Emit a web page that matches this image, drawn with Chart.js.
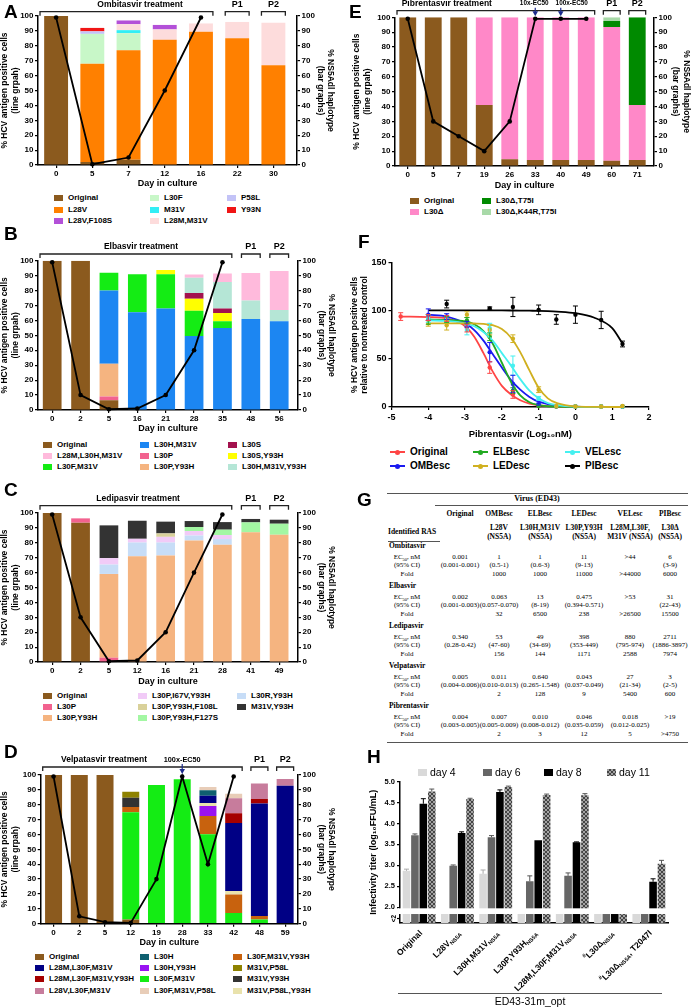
<!DOCTYPE html>
<html>
<head>
<meta charset="utf-8">
<script src="https://cdn.jsdelivr.net/npm/chart.js@4.4.1/dist/chart.umd.min.js"></script>
<style>
  body { margin:0; width:691px; height:1007px; position:relative; overflow:hidden; background:#fff; font-family:"Liberation Sans", Arial, sans-serif; }
  canvas { position:absolute; }
  .letter { position:absolute; font-weight:bold; font-size:19px; line-height:19px; }
  .lg { position:absolute; height:10px; font-weight:bold; font-size:8px; line-height:10px; white-space:nowrap; }
  .lg i { position:absolute; left:0; top:2px; width:9px; height:6px; }
  .lg span { position:absolute; left:14px; top:0; }
  .fl { position:absolute; height:12px; font-weight:bold; font-size:10px; line-height:12px; white-space:nowrap; }
  .fl b { position:absolute; left:0; top:5px; width:15px; height:2px; }
  .fl u { position:absolute; left:5px; top:3.5px; width:5px; height:5px; border-radius:50%; }
  .fl span { position:absolute; top:0; }
  .hl { position:absolute; height:12px; font-size:10.5px; line-height:12px; white-space:nowrap; }
  .hl i { position:absolute; left:0; top:2.5px; width:9px; height:7px; }
  .hl span { position:absolute; left:12px; top:0; }
  .tb { position:absolute; font-family:"Liberation Serif", "Times New Roman", serif; font-size:7px; line-height:8px; white-space:nowrap; transform:translate(-50%,-50%); }
  .tb.b { font-weight:bold; font-size:7.5px; }
  .tb.l { transform:translate(0,-50%); }
  .tb.big { font-size:8px; }
  .tb sub { font-size:4.5px; vertical-align:-1.5px; line-height:0; }
  .hr { position:absolute; height:0; border-top:1.2px solid #555; }
</style>
</head>
<body>
<script>
// ------- A: ombitasvir (stacked haplotypes, % of day) -------
const daysA = ['0', '5', '7', '12', '16', '22', '30'];
const lineA = [99, 0.5, 5, 50, 99, null, null];
const A_original   = [100, 2, 3.5, 0, 0, 0, 0];
const A_L28V       = [0, 66, 73.5, 84, 89.5, 85, 67];
const A_L30F       = [0, 20, 11.5, 0, 0, 0, 0];
const A_M31V       = [0, 0, 2, 0, 0, 0, 0];
const A_P58L       = [0, 1.7, 0, 0, 0, 0, 0];
const A_Y93N       = [0, 2.3, 0, 0, 0, 0, 0];
const A_L28M_M31V  = [0, 0, 4, 7, 5.5, 11, 28.5];
const A_L28V_F108S = [0, 0, 2.5, 3, 0, 0, 0];

// ------- B: elbasvir -------
const daysB = ['0', '2', '5', '16', '21', '28', '35', '48', '56'];
const lineB = [99, 10, 0.5, 1, 10, 40, 99, null, null];
const B_original       = [100, 100, 6.5, 0, 0, 0, 0, 0, 0];
const B_L30P           = [0, 0, 2.5, 0, 0, 0, 0, 0, 0];
const B_L30P_Y93H      = [0, 0, 22, 0, 0, 0, 0, 0, 0];
const B_L30H_M31V      = [0, 0, 49, 65.5, 68, 49.5, 55, 61, 59.5];
const B_L30F_M31V      = [0, 0, 12, 25.5, 23, 17, 4.5, 0, 0];
const B_L30S_Y93H      = [0, 0, 0, 0, 2.8, 8, 5.5, 0, 0];
const B_L30S           = [0, 0, 0, 0, 0, 3.8, 3, 0, 0];
const B_L30H_M31V_Y93H = [0, 0, 0, 0, 0, 10.3, 17.7, 12.4, 7.5];
const B_L28M_L30H_M31V = [0, 0, 0, 0, 0, 2.2, 5.8, 18.3, 26.1];

// ------- C: ledipasvir -------
const daysC = ['0', '2', '5', '12', '16', '21', '28', '41', '49'];
const lineC = [99, 30, 0.5, 1, 20, 60, 99, null, null];
const C_original        = [100, 93.5, 0, 0, 0, 0, 0, 0, 0];
const C_L30P            = [0, 2.9, 2.9, 0, 0, 0, 0, 0, 0];
const C_L30P_Y93H       = [0, 0, 56.2, 71, 71.5, 81.6, 78.7, 87, 85.4];
const C_L30R_Y93H       = [0, 0, 6.3, 9.2, 8.7, 3.3, 3.8, 0, 0];
const C_L30P_I67V_Y93H  = [0, 0, 4.3, 2.5, 3.8, 3, 2.7, 0, 0];
const C_L30P_Y93H_F108L = [0, 0, 0, 0, 2.3, 0, 0, 0, 0];
const C_L30P_Y93H_F127S = [0, 0, 0, 0, 0, 2.7, 3.6, 6.7, 7.4];
const C_M31V_Y93H       = [0, 0, 22, 12.1, 7.9, 4, 5.1, 2.3, 2.7];

// ------- D: velpatasvir -------
const daysD = ['0', '2', '5', '12', '19', '28', '33', '42', '48', '59'];
const lineD = [99, 5, 1, 0.5, 30, 99, 40, 99, null, null];
const D_original            = [100, 100, 100, 2.9, 0, 0, 0, 0, 0, 0];
const D_L30F_M31V           = [0, 0, 0, 72, 93.3, 97.1, 60.1, 7.2, 2.9, 0];
const D_L30F_M31V_Y93H      = [0, 0, 0, 3.6, 0, 0, 12.3, 12.5, 2.3, 0];
const D_L30H_Y93H           = [0, 0, 0, 0, 0, 0, 6.7, 0, 0, 0];
const D_M31V_P58L_Y93H      = [0, 0, 0, 0, 0, 0, 2.1, 2.3, 0, 0];
const D_M31V_Y93H           = [0, 0, 0, 6.2, 0, 0, 0, 0, 0, 0];
const D_M31V_P58L           = [0, 0, 0, 4.1, 0, 0, 0, 0, 0, 0];
const D_L28M_L30F_M31V      = [0, 0, 0, 0, 0, 0, 4.9, 45.7, 75.7, 92.8];
const D_L28M_L30F_M31V_Y93H = [0, 0, 0, 0, 0, 0, 0, 6.5, 3, 0];
const D_L28V_L30F_M31V      = [0, 0, 0, 0, 0, 0, 0, 10.1, 10.3, 4.5];
const D_L30H                = [0, 0, 0, 0, 0, 0, 3.6, 0, 0, 0];
const D_L30F_M31V_P58L      = [0, 0, 0, 0, 0, 0, 2.2, 3.1, 0, 0];

// ------- E: pibrentasvir -------
const daysE = ['0', '5', '7', '19', '26', '33', '40', '49', '60', '71'];
const lineE = [99, 30, 20, 10, 30, 99, 99, 99, null, null];
const E_original       = [100, 100, 100, 41, 4.5, 4, 4, 4, 3.6, 4];
const E_L30del         = [0, 0, 0, 59, 95.5, 96, 96, 96, 89.9, 37];
const E_L30del_T75I    = [0, 0, 0, 0, 0, 0, 0, 0, 4, 59];
const E_L30del_K44R    = [0, 0, 0, 0, 0, 0, 0, 0, 2.5, 0];

// ------- F: pibrentasvir dose response -------
const F_curveX = [-4.75, -4, -3.5, -3, -2.75, -2.5, -2.25, -2, -1.75, -1.5, -1.25, -1, -0.75, -0.5, 0, 0.5, 1, 1.28];
const F_cOriginal = [94, 93.5, 92, 84, 73, 56, 37, 22, 13, 7, 3.5, 1.8, 1, 0.5, 0.2, 0.1, 0, 0];
const F_cOMBesc   = [null, 96, 94, 87, 80, 69, 55, 41, 28, 18, 10.5, 5.5, 3, 1.5, 0.4, 0.1, 0, 0];
const F_cELBesc   = [null, 91, 90.5, 89, 86, 79, 66, 46, 26, 12, 5, 2, 0.8, 0.3, 0.1, 0, 0, 0];
const F_cLEDesc   = [null, 87, 87, 87, 86.8, 86.5, 85, 81, 72, 57, 38, 20, 9, 4, 0.6, 0.1, 0, 0];
const F_cVELesc   = [null, 90, 89.5, 87, 84, 78, 69, 56, 43, 29, 17, 9, 4, 2, 0.4, 0.1, 0, 0];
const F_cPIBesc   = [null, 100.5, 100.5, 100.5, 100.5, 100.5, 100.5, 100.4, 100.3, 100.2, 100.1, 100, 99.7, 99.2, 97.5, 93, 82, 66];
const F_ptX = [-4.75, -4, -3.5, -2.95, -2.33, -1.7, -1, -0.52, 0, 0.7, 1.28];
const F_pOriginal = [94, 93, 92, 82, 41, 13, 1, 0.5, 0.5, 0.5, 0.5];
const F_eOriginal = [4, 3, 3, 4, 6, 4, 0, 0, 0, 0, 0];
const F_pOMBesc   = [null, 96, 94, 86, 57, 24, 3, 1, 0.5, 0.5, 0.5];
const F_eOMBesc   = [0, 6, 3, 3, 10, 9, 1, 0, 0, 0, 0];
const F_pELBesc   = [null, 91, 91, 90, 73, 17, 1, 0.5, 0.5, 0.5, 0.5];
const F_eELBesc   = [0, 5, 3, 3, 4, 3, 0, 0, 0, 0, 0];
const F_pLEDesc   = [null, 87, 85, 96, 80, 71, 18, 1, 0.5, 0.5, 1];
const F_eLEDesc   = [0, 3, 5, 3, 5, 4, 3, 0, 0, 0, 0];
const F_pVELesc   = [null, 92, 91, 80, 82, 43, 9, 1, 0.5, 0.5, 0.5];
const F_eVELesc   = [0, 4, 3, 5, 5, 10, 2, 0, 0, 0, 0];
const F_pPIBesc   = [null, null, 107, null, 102.5, 104, 101, 91, 96, 90.5, 65.5];
const F_ePIBesc   = [0, 0, 4, 0, 1.5, 10, 5, 5, 9, 9, 3];

// ------- G: EC50 table -------
const G_viruses = ['Original', 'OMBesc', 'ELBesc', 'LEDesc', 'VELesc', 'PIBesc'];
const G_ras1 = ['', 'L28V', 'L30H,M31V', 'L30P,Y93H', 'L28M,L30F,', 'L30Δ'];
const G_ras2 = ['', '(NS5A)', '(NS5A)', '(NS5A)', 'M31V (NS5A)', '(NS5A)'];
const G_drugs = ['Ombitasvir', 'Elbasvir', 'Ledipasvir', 'Velpatasvir', 'Pibrentasvir'];
const G_ec50 = [
  ['0.001', '1', '1', '11', '>44', '6'],
  ['0.002', '0.063', '13', '0.475', '>53', '31'],
  ['0.340', '53', '49', '398', '880', '2711'],
  ['0.005', '0.011', '0.640', '0.043', '27', '3'],
  ['0.004', '0.007', '0.010', '0.046', '0.018', '>19']];
const G_ci = [
  ['(0.001-0.001)', '(0.5-1)', '(0.6-3)', '(9-13)', '', '(3-9)'],
  ['(0.001-0.003)', '(0.057-0.070)', '(8-19)', '(0.394-0.571)', '', '(22-43)'],
  ['(0.28-0.42)', '(47-60)', '(34-69)', '(353-449)', '(795-974)', '(1886-3897)'],
  ['(0.004-0.006)', '(0.010-0.013)', '(0.265-1.548)', '(0.037-0.049)', '(21-34)', '(2-5)'],
  ['(0.003-0.005)', '(0.005-0.009)', '(0.008-0.012)', '(0.035-0.059)', '(0.012-0.025)', '']];
const G_fold = [
  ['', '1000', '1000', '11000', '>44000', '6000'],
  ['', '32', '6500', '238', '>26500', '15500'],
  ['', '156', '144', '1171', '2588', '7974'],
  ['', '2', '128', '9', '5400', '600'],
  ['', '2', '3', '12', '5', '>4750']];

// ------- H: infectivity titers (null = below <2 limit) -------
const H_cats = [['Original'], ['L28V', '_NS5A'], ['L30H,M31V', '_NS5A'], ['L30P,Y93H', '_NS5A'],
  ['L28M,L30F,M31V', '_NS5A'], ['^#', 'L30Δ', '_NS5A'], ['^#', 'L30Δ', '_NS5A', ', T2047I']];
const H_days = ['day 4', 'day 6', 'day 8', 'day 11'];
const H_day4  = [2.87, null, 2.80, null, null, null, null];
const H_day6  = [3.72, 2.99, 3.67, 2.62, 2.75, null, null];
const H_day8  = [4.47, 3.77, 4.75, 3.60, 3.55, null, 2.61];
const H_day11 = [4.76, 4.58, 4.87, 4.68, 4.67, null, 3.04];
const H_sd4  = [0.04, 0, 0.09, 0, 0, 0, 0];
const H_sd6  = [0.03, 0.02, 0.04, 0.13, 0.07, 0, 0];
const H_sd8  = [0.12, 0.03, 0.05, 0, 0.01, 0, 0.07];
const H_sd11 = [0.06, 0.02, 0.02, 0.02, 0.04, 0, 0.08];
const H_ticks = [2, 2.5, 3, 3.5, 4, 4.5, 5];

// ------- Colours -------
const COL = {
  'Original': '#8B5A1E', 'L28V': '#FF8000', 'L28V,F108S': '#B350D8', 'L30F': '#C8F7C8',
  'M31V': '#33EEF5', 'L28M,M31V': '#FDDCDC', 'P58L': '#C3C3F7', 'Y93N': '#F01515',
  'L30H,M31V': '#1C86F2', 'L28M,L30H,M31V': '#FFBADC', 'L30F,M31V': '#14EC14', 'L30P': '#F2628F',
  'L30P,Y93H': '#F5B480', 'L30S': '#A3124E', 'L30S,Y93H': '#FFFF00', 'L30H,M31V,Y93H': '#B5E6D6',
  'L30P,I67V,Y93H': '#F1CBF7', 'L30P,Y93H,F108L': '#D9D19A', 'L30P,Y93H,F127S': '#A3F7A3',
  'L30R,Y93H': '#C7DDF7', 'M31V,Y93H': '#333333', 'L28M,L30F,M31V': '#000085',
  'L28M,L30F,M31V,Y93H': '#A50000', 'L28V,L30F,M31V': '#C77C9C', 'L30H': '#0F6070',
  'L30H,Y93H': '#9A12F2', 'L30F,M31V,P58L': '#E8CDB8', 'L30F,M31V,Y93H': '#C8620E',
  'M31V,P58L': '#8E8200', 'M31V,P58L,Y93H': '#E9E2AC', 'L30Δ': '#FF88C8',
  'L30Δ,T75I': '#008A00', 'L30Δ,K44R,T75I': '#A8D9A8'
};
const FCOL = { Original: '#FF4545', OMBesc: '#1A1AF0', ELBesc: '#22AA22', LEDesc: '#D0B020', VELesc: '#45F0F0', PIBesc: '#000000' };

Chart.defaults.font.family = '"Liberation Sans", Arial, sans-serif';
Chart.defaults.color = '#000';
Chart.defaults.animation = false;

const bold = (s) => ({ size: s, weight: 'bold' });
const tickGrid = { drawOnChartArea: false, tickLength: 3, color: '#000', lineWidth: 1.2 };
const axisBorder = { color: '#000', width: 1.5 };

function addCanvas(b) {
  const c = document.createElement('canvas');
  c.width = b.w; c.height = b.h;
  c.style.left = b.x + 'px'; c.style.top = b.y + 'px';
  document.body.appendChild(c);
  return c;
}

function html(cls, x, y, inner) {
  const d = document.createElement('div');
  d.className = cls; d.style.left = x + 'px'; d.style.top = y + 'px';
  d.innerHTML = inner;
  document.body.appendChild(d);
  return d;
}

// squeeze categories left so the last bar leaves a small gap before the right axis
const gapPlugin = (gap) => ({
  id: 'gap',
  afterLayout(chart) {
    if (!gap) return;
    const x = chart.scales.x, w = x.right - x.left;
    x._valueRange = x._valueRange * w / (w - gap);
    x._gridLineItems = null; x._labelItems = null;
  }
});

function bracketPlugin(p) {
  return { id: 'brackets', afterDraw(chart) {
    const ctx = chart.ctx, x = chart.scales.x, a = chart.chartArea;
    const hw = (x.getPixelForValue(1) - x.getPixelForValue(0)) * 0.66 / 2;
    const by = a.top - p.brGap, ty = by - 7;
    ctx.save();
    ctx.strokeStyle = '#222'; ctx.lineWidth = 1.3; ctx.fillStyle = '#000';
    ctx.textAlign = 'center'; ctx.textBaseline = 'middle';
    const bracket = (x0, x1) => {
      ctx.beginPath(); ctx.moveTo(x0, by + 4); ctx.lineTo(x0, by); ctx.lineTo(x1, by); ctx.lineTo(x1, by + 4); ctx.stroke();
    };
    bracket(a.left + 2, x.getPixelForValue(p.treatEnd) + hw);
    ctx.font = 'bold 8.5px "Liberation Sans"';
    ctx.fillText(p.treat, a.left + p.titleFrac * (a.right - a.left), ty);
    ctx.font = 'bold 9px "Liberation Sans"';
    ['P1', 'P2'].forEach((t, k) => {
      const c = x.getPixelForValue(p.treatEnd + 1 + k);
      bracket(c - hw, c + hw); ctx.fillText(t, c, ty);
    });
    ctx.font = `bold ${p.arrowFont || 7.3}px "Liberation Sans"`;
    (p.arrows || []).forEach(([day, t, dx]) => {
      const c = x.getPixelForValue(p.days.indexOf(day));
      ctx.fillStyle = '#000'; ctx.fillText(t, c + dx, ty);
      ctx.strokeStyle = '#1c2a8c'; ctx.fillStyle = '#1c2a8c'; ctx.lineWidth = 1.2;
      ctx.beginPath(); ctx.moveTo(c, ty + 4); ctx.lineTo(c, a.top - 4); ctx.stroke();
      ctx.beginPath(); ctx.moveTo(c - 2.8, a.top - 6); ctx.lineTo(c + 2.8, a.top - 6); ctx.lineTo(c, a.top - 1); ctx.closePath(); ctx.fill();
    });
    ctx.restore();
  }};
}

const errorBars = { id: 'errorBars', afterDatasetsDraw(chart) {
  const ctx = chart.ctx, y = chart.scales.y;
  chart.data.datasets.forEach((ds, di) => {
    if (!ds.err) return;
    chart.getDatasetMeta(di).data.forEach((el, i) => {
      const e = ds.err[i], raw = ds.data[i];
      const v = (raw && typeof raw === 'object') ? raw.y : raw;
      if (!e || v == null) return;
      const top = y.getPixelForValue(v + e);
      const bot = ds.errMode === 'up' ? el.y : y.getPixelForValue(v - e);
      ctx.save();
      ctx.strokeStyle = ds.errColor; ctx.lineWidth = 1;
      ctx.beginPath();
      ctx.moveTo(el.x, top); ctx.lineTo(el.x, bot);
      ctx.moveTo(el.x - 2.5, top); ctx.lineTo(el.x + 2.5, top);
      if (ds.errMode !== 'up') { ctx.moveTo(el.x - 2.5, bot); ctx.lineTo(el.x + 2.5, bot); }
      ctx.stroke(); ctx.restore();
    });
  });
}};

function stackPanel(p) {
  const b = p.box, a = p.area;
  const datasets = [{
    type: 'line', data: p.line, yAxisID: 'yL', order: 0, clip: false,
    borderColor: '#000', borderWidth: 1.8, pointRadius: 2.3, pointBorderWidth: 0,
    pointBackgroundColor: '#000', tension: 0
  }];
  p.series.forEach(([name, vals]) => datasets.push({
    type: 'bar', label: name, data: vals, yAxisID: 'yR', order: 1,
    backgroundColor: COL[name], barPercentage: 0.66, categoryPercentage: 1
  }));
  const titleFont = { size: 8.5, weight: 'bold', lineHeight: 1.2 };
  new Chart(addCanvas(b), {
    type: 'bar',
    data: { labels: p.days, datasets },
    options: {
      responsive: false,
      layout: { padding: { top: a.t - b.y, left: 0, right: 0, bottom: 0 } },
      plugins: { legend: { display: false }, tooltip: { enabled: false } },
      scales: {
        x: { stacked: true, offset: true, grid: { ...tickGrid, offset: false }, border: axisBorder,
             ticks: { font: bold(8), padding: 1, autoSkip: false, maxRotation: 0 },
             title: { display: true, text: 'Day in culture', font: bold(9), padding: { top: 0, bottom: 1.6 } },
             afterFit: s => { s.height = b.y + b.h - a.b; } },
        yL: { position: 'left', min: 0, max: 100, grid: tickGrid, border: axisBorder,
              ticks: { stepSize: 10, font: bold(8), padding: 1.5 },
              title: { display: true, text: ['% HCV antigen positive cells', '(line grpah)'], font: titleFont, padding: { top: p.lPad, bottom: 0 } },
              afterFit: s => { s.width = a.l - b.x; } },
        yR: { position: 'right', stacked: true, min: 0, max: 100, grid: tickGrid, border: axisBorder,
              ticks: { stepSize: 10, font: bold(8), padding: 1.5 },
              title: { display: true, text: ['% NS5Adl haplotype', '(bar graphs)'], font: titleFont, padding: { top: p.rPad, bottom: 0 } },
              afterFit: s => { s.width = b.x + b.w - a.r; } }
      }
    },
    plugins: [gapPlugin(p.gapR), bracketPlugin(p)]
  });
  // legend, column-major
  const rows = p.legRows.length;
  p.legend.forEach((name, k) => {
    const col = Math.floor(k / rows), row = k % rows;
    html('lg', p.legCols[col], p.legRows[row] - 5, `<i style="background:${COL[name]}"></i><span>${name}</span>`);
  });
}

// ------- Panels A-E -------
stackPanel({
  days: daysA, line: lineA, treat: 'Ombitasvir treatment', treatEnd: 4, titleFrac: 0.394,
  series: [['Original', A_original], ['L28V', A_L28V], ['L30F', A_L30F], ['M31V', A_M31V], ['P58L', A_P58L],
           ['Y93N', A_Y93N], ['L28M,M31V', A_L28M_M31V], ['L28V,F108S', A_L28V_F108S]],
  legend: ['Original', 'L28V', 'L28V,F108S', 'L30F', 'M31V', 'L28M,M31V', 'P58L', 'Y93N'],
  box: { x: 0, y: 0, w: 345, h: 191 }, area: { l: 38, t: 16, r: 297, b: 165 },
  gapR: 5.5, brGap: 4.3, lPad: 0, rPad: 9.5, legCols: [54, 150, 227], legRows: [198, 209.5, 221]
});
stackPanel({
  days: daysB, line: lineB, treat: 'Elbasvir treatment', treatEnd: 6, titleFrac: 0.396,
  series: [['Original', B_original], ['L30P', B_L30P], ['L30P,Y93H', B_L30P_Y93H], ['L30H,M31V', B_L30H_M31V],
           ['L30F,M31V', B_L30F_M31V], ['L30S,Y93H', B_L30S_Y93H], ['L30S', B_L30S],
           ['L30H,M31V,Y93H', B_L30H_M31V_Y93H], ['L28M,L30H,M31V', B_L28M_L30H_M31V]],
  legend: ['Original', 'L28M,L30H,M31V', 'L30F,M31V', 'L30H,M31V', 'L30P', 'L30P,Y93H', 'L30S', 'L30S,Y93H', 'L30H,M31V,Y93H'],
  box: { x: 0, y: 240, w: 345, h: 196 }, area: { l: 38, t: 260.7, r: 298, b: 410 },
  gapR: 4.6, brGap: 6.7, lPad: 0, rPad: 8.5, legCols: [43, 140, 228], legRows: [445.3, 456, 467]
});
stackPanel({
  days: daysC, line: lineC, treat: 'Ledipasvir treatment', treatEnd: 6, titleFrac: 0.385,
  series: [['Original', C_original], ['L30P', C_L30P], ['L30P,Y93H', C_L30P_Y93H], ['L30R,Y93H', C_L30R_Y93H],
           ['L30P,I67V,Y93H', C_L30P_I67V_Y93H], ['L30P,Y93H,F108L', C_L30P_Y93H_F108L],
           ['L30P,Y93H,F127S', C_L30P_Y93H_F127S], ['M31V,Y93H', C_M31V_Y93H]],
  legend: ['Original', 'L30P', 'L30P,Y93H', 'L30P,I67V,Y93H', 'L30P,Y93H,F108L', 'L30P,Y93H,F127S', 'L30R,Y93H', 'M31V,Y93H'],
  box: { x: 0, y: 490, w: 345, h: 199 }, area: { l: 38, t: 513, r: 298, b: 662 },
  gapR: 4.7, brGap: 7.3, lPad: 0, rPad: 8.5, legCols: [43, 138, 237], legRows: [695.7, 707, 718]
});
stackPanel({
  days: daysD, line: lineD, treat: 'Velpatasvir treatment', treatEnd: 7, titleFrac: 0.246,
  arrows: [['28', '100x-EC50', 0]], arrowFont: 7.3,
  series: [['Original', D_original], ['L30F,M31V', D_L30F_M31V], ['L30F,M31V,Y93H', D_L30F_M31V_Y93H],
           ['L30H,Y93H', D_L30H_Y93H], ['M31V,P58L,Y93H', D_M31V_P58L_Y93H], ['M31V,Y93H', D_M31V_Y93H],
           ['M31V,P58L', D_M31V_P58L], ['L28M,L30F,M31V', D_L28M_L30F_M31V],
           ['L28M,L30F,M31V,Y93H', D_L28M_L30F_M31V_Y93H], ['L28V,L30F,M31V', D_L28V_L30F_M31V],
           ['L30H', D_L30H], ['L30F,M31V,P58L', D_L30F_M31V_P58L]],
  legend: ['Original', 'L28M,L30F,M31V', 'L28M,L30F,M31V,Y93H', 'L28V,L30F,M31V',
           'L30H', 'L30H,Y93H', 'L30F,M31V', 'L30F,M31V,P58L',
           'L30F,M31V,Y93H', 'M31V,P58L', 'M31V,Y93H', 'M31V,P58L,Y93H'],
  box: { x: 0, y: 748, w: 345, h: 202 }, area: { l: 40.7, t: 775, r: 298, b: 923.7 },
  gapR: 0, brGap: 8, lPad: 0, rPad: 8.5, legCols: [35, 140, 233], legRows: [957, 968, 979, 991]
});
stackPanel({
  days: daysE, line: lineE, treat: 'Pibrentasvir treatment', treatEnd: 7, titleFrac: 0.2,
  arrows: [['33', '10x-EC50', -1], ['40', '100x-EC50', 11]], arrowFont: 6.4,
  series: [['Original', E_original], ['L30Δ', E_L30del], ['L30Δ,T75I', E_L30del_T75I], ['L30Δ,K44R,T75I', E_L30del_K44R]],
  legend: ['Original', 'L30Δ', 'L30Δ,T75I', 'L30Δ,K44R,T75I'],
  box: { x: 345, y: 0, w: 346, h: 193 }, area: { l: 395, t: 17.3, r: 654, b: 166 },
  gapR: 4, brGap: 6.6, lPad: 7, rPad: 0, legCols: [410, 482], legRows: [201, 212]
});

// ------- Panel F -------
(function () {
  const b = { x: 345, y: 250, w: 346, h: 192 }, a = { l: 391.5, t: 262.7, r: 649, b: 407 };
  const curves = { Original: F_cOriginal, OMBesc: F_cOMBesc, ELBesc: F_cELBesc, LEDesc: F_cLEDesc, VELesc: F_cVELesc, PIBesc: F_cPIBesc };
  const pts = { Original: F_pOriginal, OMBesc: F_pOMBesc, ELBesc: F_pELBesc, LEDesc: F_pLEDesc, VELesc: F_pVELesc, PIBesc: F_pPIBesc };
  const errs = { Original: F_eOriginal, OMBesc: F_eOMBesc, ELBesc: F_eELBesc, LEDesc: F_eLEDesc, VELesc: F_eVELesc, PIBesc: F_ePIBesc };
  const order = ['PIBesc', 'LEDesc', 'VELesc', 'ELBesc', 'OMBesc', 'Original'];
  const datasets = [];
  order.forEach(k => {
    datasets.push({ type: 'line', label: k, showLine: true, pointRadius: 0, borderWidth: 1.8, borderColor: FCOL[k],
      cubicInterpolationMode: 'monotone', clip: false,
      data: F_curveX.map((x, i) => ({ x, y: curves[k][i] })).filter(p => p.y != null) });
    datasets.push({ type: 'scatter', label: k + ' pts', pointRadius: 2.2, pointBorderWidth: 0, clip: false,
      backgroundColor: FCOL[k], borderColor: FCOL[k], err: errs[k], errColor: FCOL[k],
      data: F_ptX.map((x, i) => ({ x, y: pts[k][i] })) });
  });
  new Chart(addCanvas(b), {
    type: 'scatter',
    data: { datasets },
    options: {
      responsive: false,
      layout: { padding: { top: a.t - b.y, right: b.x + b.w - a.r, left: 0, bottom: 0 } },
      plugins: { legend: { display: false }, tooltip: { enabled: false } },
      scales: {
        x: { type: 'linear', min: -5, max: 2, grid: tickGrid, border: axisBorder,
             ticks: { stepSize: 1, font: bold(9), padding: 2 },
             title: { display: true, text: 'Pibrentasvir (Log₁₀nM)', font: bold(9.5), padding: { top: 0, bottom: 2.3 } },
             afterFit: s => { s.height = b.y + b.h - a.b; } },
        y: { min: 0, max: 150, grid: tickGrid, border: axisBorder,
             ticks: { stepSize: 50, font: bold(9), padding: 2 },
             title: { display: true, text: ['% HCV antigen positive cells', 'relative to nontreated control'],
                      font: { size: 8.5, weight: 'bold', lineHeight: 1.1 }, padding: { top: 5.3, bottom: 0 } },
             afterFit: s => { s.width = a.l - b.x; } }
      }
    },
    plugins: [errorBars]
  });
  const legOrder = ['Original', 'OMBesc', 'ELBesc', 'LEDesc', 'VELesc', 'PIBesc'];
  const cols = [390, 473, 565], rows = [452, 466];
  legOrder.forEach((k, i) => {
    const c = Math.floor(i / 2), r = i % 2;
    html('fl', cols[c], rows[r] - 6,
      `<b style="background:${FCOL[k]}"></b><u style="background:${FCOL[k]}"></u><span style="left:20px">${k}</span>`);
  });
})();

// ------- Panel G (table) -------
(function () {
  const cols = [460, 499, 540, 584, 630, 670], lx = 407;
  const t = (x, y, s, cls) => html(cls, x, y, s);
  const hr = (x, y, w) => { const d = html('hr', x, y, ''); d.style.width = w + 'px'; };
  hr(387, 493, 301); hr(435, 504.5, 253); hr(388, 540.5, 52); hr(387, 742, 301);
  t(537, 499, 'Virus (ED43)', 'tb b big');
  G_viruses.forEach((v, i) => t(cols[i], 514, v, 'tb b'));
  t(388, 532, 'Identified RAS', 'tb b l');
  G_ras1.forEach((v, i) => { if (v) t(cols[i], 528, v, 'tb b'); });
  G_ras2.forEach((v, i) => { if (v) t(cols[i], 537, v, 'tb b'); });
  G_drugs.forEach((d, k) => {
    const y0 = 546 + 40 * k;
    t(389, y0, d, 'tb b l');
    t(lx, y0 + 10.5, 'EC<sub>50</sub>, nM', 'tb');
    t(lx, y0 + 19, '(95% CI)', 'tb');
    t(lx, y0 + 27.5, 'Fold', 'tb');
    G_ec50[k].forEach((v, i) => { if (v) t(cols[i], y0 + 10.5, v.replace('>', '&gt;'), 'tb'); });
    G_ci[k].forEach((v, i) => { if (v) t(cols[i], y0 + 19, v, 'tb'); });
    G_fold[k].forEach((v, i) => { if (v) t(cols[i], y0 + 27.5, v.replace('>', '&gt;'), 'tb'); });
  });
})();

// ------- Panel H -------
(function () {
  const b = { x: 345, y: 775, w: 346, h: 232 }, a = { l: 400, t: 779, r: 668, b: 923 };
  const LOD_FILL = 1.84;   // bar top used for "<2" titres (lower axis segment)
  const Y_MIN = 1.626;
  const pc = document.createElement('canvas'); pc.width = pc.height = 4;
  const pg = pc.getContext('2d');
  pg.fillStyle = '#a3a3a3'; pg.fillRect(0, 0, 4, 4);
  pg.fillStyle = '#444'; pg.fillRect(0, 0, 2, 2); pg.fillRect(2, 2, 2, 2);
  const fills = ['#d9d9d9', '#666666', '#000000', pg.createPattern(pc, 'repeat')];
  const errCols = ['#aaaaaa', '#555555', '#000000', '#555555'];
  const series = [H_day4, H_day6, H_day8, H_day11], sds = [H_sd4, H_sd6, H_sd8, H_sd11];
  const datasets = series.map((s, k) => ({
    label: H_days[k], data: s.map(v => v == null ? LOD_FILL : v), backgroundColor: fills[k],
    err: sds[k], errMode: 'up', errColor: errCols[k], barPercentage: 0.9, categoryPercentage: 0.88
  }));
  const breakPlugin = { id: 'axisBreak', afterDatasetsDraw(chart) {
    const ctx = chart.ctx, y = chart.scales.y, ca = chart.chartArea;
    const yTop = y.getPixelForValue(2) + 1, yBot = y.getPixelForValue(LOD_FILL);
    ctx.save();
    ctx.fillStyle = '#fff';
    ctx.fillRect(ca.left - 2, yTop, ca.right - ca.left + 4, yBot - yTop);
    const yl = y.getPixelForValue((LOD_FILL + Y_MIN) / 2);
    ctx.strokeStyle = '#000'; ctx.lineWidth = 1.2;
    ctx.beginPath(); ctx.moveTo(ca.left - 3, yl); ctx.lineTo(ca.left, yl); ctx.stroke();
    ctx.translate(ca.left - 6, yl); ctx.rotate(-Math.PI / 2);
    ctx.fillStyle = '#000'; ctx.font = 'bold 6.5px "Liberation Sans"'; ctx.textAlign = 'center'; ctx.textBaseline = 'middle';
    ctx.fillText('<2', 0, 0);
    ctx.restore();
  }};
  const labelPlugin = { id: 'catLabels', afterDraw(chart) {
    const ctx = chart.ctx, x = chart.scales.x, ca = chart.chartArea;
    H_cats.forEach((parts, i) => {
      const cx = x.getPixelForValue(i);
      ctx.save();
      ctx.translate(cx + 2, ca.bottom + 9); ctx.rotate(-Math.PI / 4);
      const segs = parts.map(s => {
        const sub = s[0] === '_', sup = s[0] === '^';
        const txt = (sub || sup) ? s.slice(1) : s;
        const f = (sub || sup) ? 'bold 5.5px "Liberation Sans"' : 'bold 8.5px "Liberation Sans"';
        ctx.font = f;
        return { txt, f, w: ctx.measureText(txt).width, dy: sub ? 2.5 : sup ? -3.2 : 0 };
      });
      let px = -segs.reduce((s, g) => s + g.w, 0);
      ctx.fillStyle = '#000'; ctx.textAlign = 'left'; ctx.textBaseline = 'middle';
      segs.forEach(g => { ctx.font = g.f; ctx.fillText(g.txt, px, g.dy); px += g.w; });
      ctx.restore();
    });
  }};
  new Chart(addCanvas(b), {
    type: 'bar',
    data: { labels: H_cats.map(p => p.join('')), datasets },
    options: {
      responsive: false,
      layout: { padding: { top: a.t - b.y, right: b.x + b.w - a.r, left: 0, bottom: 0 } },
      plugins: { legend: { display: false }, tooltip: { enabled: false } },
      scales: {
        x: { ticks: { display: false }, grid: { display: false }, border: axisBorder,
             afterFit: s => { s.height = b.y + b.h - a.b; } },
        y: { min: Y_MIN, max: 5, grid: tickGrid, border: axisBorder,
             afterBuildTicks: s => { s.ticks = H_ticks.map(v => ({ value: v })); },
             ticks: { font: bold(7.5), padding: 2, callback: v => Number(v).toFixed(1) },
             title: { display: true, text: 'Infectivity titer (log₁₀FFU/mL)', font: bold(9), padding: { top: 23.6, bottom: 0 } },
             afterFit: s => { s.width = a.l - b.x; } }
      }
    },
    plugins: [errorBars, breakPlugin, labelPlugin]
  });
  const boxX = [418, 483, 544, 607];
  const css = ['#d9d9d9', '#666', '#000', 'repeating-conic-gradient(#444 0 25%, #a3a3a3 0 50%) 0 0/4px 4px'];
  H_days.forEach((d, k) => html('hl', boxX[k], 766, `<i style="background:${css[k]}"></i><span>${d}</span>`));
  const ln = html('hr', 398, 993, ''); ln.style.width = '264px'; ln.style.borderTopWidth = '1.5px';
  const lab = html('hl', 530, 995, 'ED43-31m_opt'); lab.style.transform = 'translateX(-50%)';
})();

// ------- Panel letters -------
[['A', 4, 1.5], ['B', 4, 223.5], ['C', 4, 480], ['D', 4, 741.5], ['E', 349, 1.5], ['F', 358, 231.5], ['G', 357, 489.5], ['H', 367, 747]]
  .forEach(([t, x, y]) => html('letter', x, y, t));
</script>
</body>
</html>
